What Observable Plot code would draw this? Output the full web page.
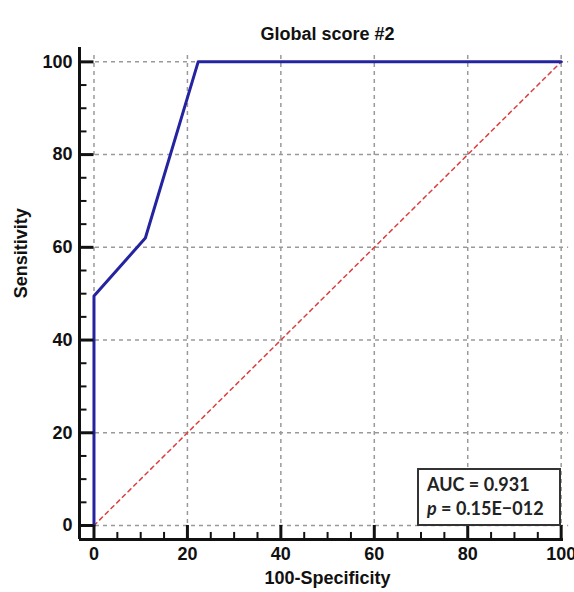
<!DOCTYPE html>
<html>
<head>
<meta charset="utf-8">
<script src="https://cdn.jsdelivr.net/npm/d3@7"></script>
<script src="https://cdn.jsdelivr.net/npm/@observablehq/plot@0.6"></script>
<style>
  html, body { margin: 0; padding: 0; background: #fff; }
  #wrap { position: relative; width: 574px; height: 592px; }
  #legend {
    position: absolute; left: 417px; top: 468px; width: 144px; height: 58px;
    box-sizing: border-box; border: 2px solid #333; background: #fff;
    font-family: Lato, "Open Sans", sans-serif; font-weight: bold; font-size: 18px;
    color: #222; padding: 2px 0 0 8px; line-height: 24px;
  }
</style>
</head>
<body>
<div id="wrap"><div id="legend"></div></div>
<script>
// ---- data ----
const title = "Global score #2";
const xLabel = "100-Specificity";
const yLabel = "Sensitivity";
const rocFpr = [0, 0, 11, 22.3, 100];
const rocTpr = [0, 49.5, 62, 100, 100];
const refLine = [0, 100];
const majorTicks = [0, 20, 40, 60, 80, 100];
const minorTicks = [5, 10, 15, 25, 30, 35, 45, 50, 55, 65, 70, 75, 85, 90, 95];
const aucText = "AUC = 0.931";
const pLabel = "p";
const pText = " = 0.15E\u2212012";

// ---- derived ----
const roc = rocFpr.map((x, i) => ({x, y: rocTpr[i]}));
const diag = refLine.map(v => ({x: v, y: v}));
const xMin = -3.1, xMax = 100.5, yMin = -3.02, yMax = 103.1;
const font = "'Liberation Sans', Arial, sans-serif";

const chart = Plot.plot({
  width: 574,
  height: 592,
  marginLeft: 79,
  marginRight: 11,
  marginTop: 47,
  marginBottom: 53,
  style: {fontFamily: font, background: "#fff", overflow: "visible"},
  x: {domain: [xMin, xMax]},
  y: {domain: [yMin, yMax]},
  marks: [
    // grid
    Plot.ruleX(majorTicks, {x: d => d, y1: yMin, y2: 101.8, stroke: "#9a9a9a", strokeWidth: 1.5, strokeDasharray: "4,4"}),
    Plot.ruleY(majorTicks, {y: d => d, x1: xMin, x2: 101.6, stroke: "#9a9a9a", strokeWidth: 1.5, strokeDasharray: "4,4"}),
    // reference diagonal
    Plot.line(diag, {x: "x", y: "y", stroke: "#d9403f", strokeWidth: 1.5, strokeDasharray: "4,4"}),
    // ROC curve
    Plot.line(roc, {x: "x", y: "y", stroke: "#2424a0", strokeWidth: 3}),
    // ticks
    Plot.ruleX(majorTicks, {x: d => d, y1: yMin, y2: 0, stroke: "#111", strokeWidth: 3}),
    Plot.ruleX(minorTicks, {x: d => d, y1: yMin, y2: -1.5, stroke: "#111", strokeWidth: 2}),
    Plot.ruleY(majorTicks, {y: d => d, x1: xMin, x2: 0, stroke: "#111", strokeWidth: 3}),
    Plot.ruleY(minorTicks, {y: d => d, x1: xMin, x2: -1.5, stroke: "#111", strokeWidth: 2}),
    // axis lines
    Plot.ruleX([xMin], {stroke: "#111", strokeWidth: 3}),
    Plot.ruleY([yMin], {stroke: "#111", strokeWidth: 3}),
    // tick labels
    Plot.axisX({ticks: majorTicks, tickSize: 0, tickPadding: 8, fontSize: 18, fontWeight: "bold", label: null, fill: "#111"}),
    Plot.axisY({ticks: majorTicks, tickSize: 0, tickPadding: 7, fontSize: 18, fontWeight: "bold", label: null, fill: "#111"}),
    // titles
    Plot.text([title], {x: () => 50, frameAnchor: "top", dy: -20, fontSize: 18, fontWeight: "bold", fill: "#111"}),
    Plot.text([xLabel], {x: () => 50, frameAnchor: "bottom", dy: 44, fontSize: 18, fontWeight: "bold", fill: "#111"}),
    Plot.text([yLabel], {y: () => 49, frameAnchor: "left", dx: -58, rotate: -90, fontSize: 18, fontWeight: "bold", fill: "#111"})
  ]
});

const wrap = document.getElementById("wrap");
wrap.insertBefore(chart, wrap.firstChild);
const legend = document.getElementById("legend");
legend.innerHTML = `<div>${aucText}</div><div><i>${pLabel}</i>${pText}</div>`;
</script>
</body>
</html>
